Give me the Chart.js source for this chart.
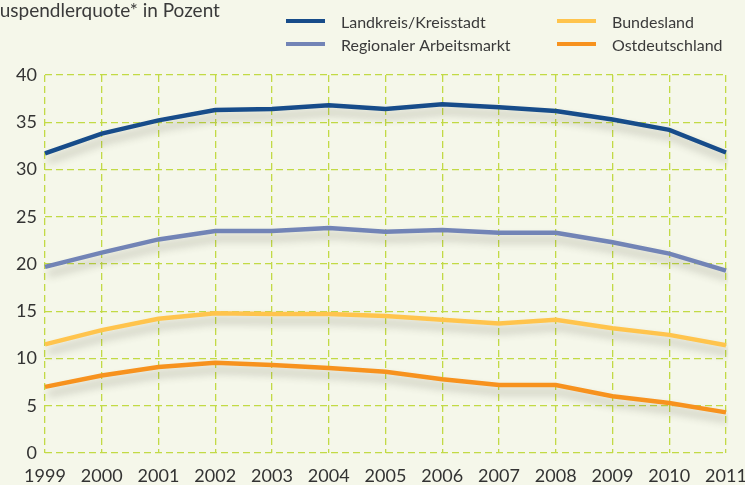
<!DOCTYPE html>
<html>
<head>
<meta charset="utf-8">
<script src="https://cdn.jsdelivr.net/npm/chart.js@4"></script>
<style>
  html,body{margin:0;padding:0;background:#f5f7ea;}
  #wrap{width:745px;height:485px;position:relative;}
</style>
</head>
<body>
<div id="wrap"><canvas id="c" width="745" height="485"></canvas></div>
<script>
const years = ['1999','2000','2001','2002','2003','2004','2005','2006','2007','2008','2009','2010','2011'];
const landkreis = [31.7, 33.8, 35.2, 36.3, 36.4, 36.8, 36.4, 36.9, 36.6, 36.2, 35.3, 34.2, 31.8];
const regional  = [19.7, 21.2, 22.6, 23.5, 23.5, 23.8, 23.4, 23.6, 23.3, 23.3, 22.3, 21.1, 19.3];
const bundesland = [11.5, 13.0, 14.2, 14.8, 14.7, 14.7, 14.5, 14.1, 13.7, 14.1, 13.2, 12.5, 11.4];
const ost = [7.0, 8.2, 9.1, 9.55, 9.3, 9.0, 8.6, 7.8, 7.2, 7.2, 6.0, 5.3, 4.3];
const seriesNames = ['Landkreis/Kreisstadt', 'Regionaler Arbeitsmarkt', 'Bundesland', 'Ostdeutschland'];
const yTicks = [0, 5, 10, 15, 20, 25, 30, 35, 40];
const titleText = 'Auspendlerquote* in Pozent';

const colors = ['#174c8a', '#7284b6', '#ffc44d', '#f7921e'];
const FONT = "Lato, 'Open Sans', sans-serif";

const shadowPlugin = {
  id: 'shadow',
  beforeDatasetDraw(chart) {
    const ctx = chart.ctx;
    ctx.save();
    ctx.shadowColor = 'rgba(60,60,40,0.30)';
    ctx.shadowBlur = 8;
    ctx.shadowOffsetX = 3;
    ctx.shadowOffsetY = 7;
  },
  afterDatasetDraw(chart) {
    chart.ctx.restore();
  }
};

const legendPlugin = {
  id: 'customLegend',
  afterDraw(chart) {
    const ctx = chart.ctx;
    ctx.save();
    ctx.font = '19px ' + FONT;
    ctx.fillStyle = '#3a3a3a';
    ctx.textBaseline = 'alphabetic';
    ctx.textAlign = 'left';
    const aw = ctx.measureText('A').width;
    ctx.fillText(titleText, -aw, 17);
    const pos = [[286, 21], [286, 44], [557, 21], [557, 44]];
    ctx.font = '16px ' + FONT;
    chart.data.datasets.forEach((ds, i) => {
      const [x, y] = pos[i];
      ctx.strokeStyle = ds.borderColor;
      ctx.lineWidth = 4;
      ctx.beginPath();
      ctx.moveTo(x, y);
      ctx.lineTo(x + 39, y);
      ctx.stroke();
      ctx.fillStyle = '#3a3a3a';
      ctx.fillText(ds.label, x + 55, y + 7);
    });
    ctx.restore();
  }
};

const datasets = [landkreis, regional, bundesland, ost].map((d, i) => ({
  label: seriesNames[i],
  data: d,
  borderColor: colors[i],
  backgroundColor: colors[i],
  borderWidth: 4.5,
  pointRadius: 0,
  tension: 0,
  fill: false
}));

new Chart(document.getElementById('c'), {
  type: 'line',
  data: { labels: years, datasets },
  options: {
    responsive: false,
    animation: false,
    layout: { padding: { top: 75, right: 0, left: 0, bottom: 0 } },
    plugins: { legend: { display: false }, tooltip: { enabled: false } },
    scales: {
      x: {
        offset: false,
        grid: { color: '#c2da45', lineWidth: 1.3, drawTicks: false },
        border: { display: false, dash: [7, 4] },
        ticks: { color: '#333', font: { family: FONT, size: 18 }, padding: 12, maxRotation: 0, autoSkip: false },
        afterFit(s) { s.height = 32; s.paddingRight = 19; }
      },
      y: {
        min: 0, max: 40,
        afterBuildTicks(s) { s.ticks = yTicks.map(v => ({ value: v })); },
        grid: { color: '#c2da45', lineWidth: 1.3, drawTicks: false },
        border: { display: false, dash: [7, 4] },
        ticks: { color: '#333', font: { family: FONT, size: 18 }, padding: 8 },
        afterFit(s) { s.width = 45; }
      }
    }
  },
  plugins: [shadowPlugin, legendPlugin]
});
</script>
</body>
</html>
